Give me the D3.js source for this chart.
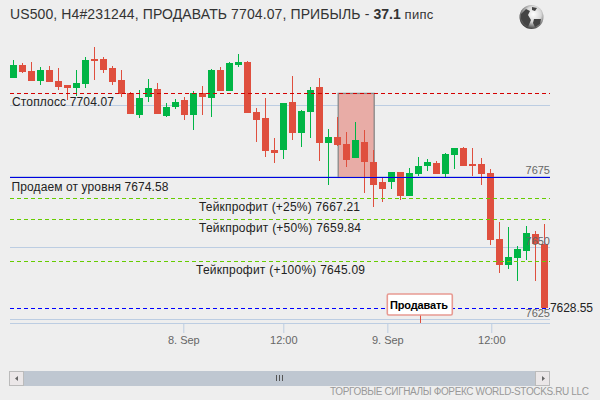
<!DOCTYPE html>
<html>
<head>
<meta charset="utf-8">
<style>
  html, body { margin: 0; padding: 0; background: #eeeeee; }
  text { font-family: "Liberation Sans", Arial, sans-serif; }
</style>
<script src="https://cdn.jsdelivr.net/npm/d3@7"></script>
</head>
<body>
<div id="chart"></div>
<script>
const opens  = [7709.5,7714.0,7711.9,7708.4,7712.3,7708.4,7707.0,7706.0,7707.4,7716.2,7716.2,7713.0,7708.8,7704.2,7696.5,7702.8,7705.6,7696.1,7699.2,7701.8,
                7696.5,7704.2,7702.5,7712.3,7704.9,7714.0,7715.1,7697.5,7695.4,7684.2,7684.2,7701.1,7690.2,7697.5,7706.3,7686.7,7688.8,7686.3,7681.4,7687.0,
                7680.0,7673.0,7673.0,7676.5,7668.0,7675.8,7678.6,7679.6,7675.8,7682.4,7684.9,7679.3,7679.3,7676.1,7652.9,7643.8,7646.3,7648.7,7654.7,7651.2]
const highs  = [7715.8,7714.7,7715.1,7713.3,7713.7,7713.0,7707.0,7712.3,7716.9,7720.4,7716.9,7713.7,7712.3,7704.6,7705.3,7709.1,7707.7,7700.7,7702.1,7702.8,
                7704.9,7706.7,7712.6,7713.3,7715.1,7717.9,7715.4,7698.9,7702.5,7688.4,7700.7,7710.2,7698.2,7706.3,7709.5,7691.6,7695.8,7690.5,7694.0,7691.2,
                7684.2,7674.7,7676.5,7676.5,7677.9,7681.7,7681.0,7680.3,7683.1,7684.9,7685.3,7684.9,7681.4,7677.5,7658.9,7657.2,7650.5,7657.5,7655.8,7658.2]
const lows   = [7709.5,7711.2,7708.4,7707.0,7708.1,7705.3,7701.8,7703.2,7706.0,7708.8,7711.2,7707.0,7702.8,7696.8,7695.4,7701.1,7696.8,7695.8,7698.6,7694.7,
                7691.2,7696.5,7695.8,7704.9,7704.9,7713.3,7697.2,7687.0,7681.7,7679.6,7681.0,7687.7,7685.3,7688.4,7680.3,7671.9,7685.6,7678.2,7681.4,7669.1,
                7664.2,7665.9,7670.5,7666.6,7668.0,7675.1,7676.8,7675.8,7674.4,7677.5,7678.6,7675.1,7671.9,7650.8,7641.0,7642.4,7638.2,7645.6,7638.2,7628.55]
const closes = [7714.0,7711.6,7708.4,7712.3,7708.1,7706.3,7706.0,7707.7,7715.8,7715.4,7712.3,7708.1,7703.9,7696.8,7702.5,7706.0,7696.8,7699.3,7701.1,7696.5,
                7704.2,7702.8,7712.3,7704.9,7714.7,7715.1,7697.2,7694.7,7683.8,7683.1,7700.7,7690.2,7697.9,7705.3,7686.7,7688.8,7686.0,7680.7,7687.7,7680.0,
                7671.9,7670.5,7676.5,7668.0,7676.1,7678.6,7680.0,7675.8,7682.8,7684.9,7678.6,7678.6,7675.8,7652.6,7643.8,7646.6,7649.4,7655.1,7651.2,7628.55]

const yTicks = [7700, 7675, 7650, 7625]
const yLabels = [7675, 7650, 7625]
const xTicks = [18.89, 30, 41.56, 53.11]
const xLabels = ["8. Sep", "12:00", "9. Sep", "12:00"]

const stopLoss = 7704.07
const entry = 7674.58
const lastPrice = 7628.55
const takeProfits = [7667.21, 7659.84, 7645.09]
const tradeBars = [36.1, 40.1]
const flagBar = 45.2

const width = 600, height = 400

const x = d3.scaleLinear().domain([0, 59]).range([13.3, 544.3])
const y = d3.scaleLinear().domain([7625, 7675]).range([318.6, 176.2])
const left = 10, right = 550, bottom = 323

const svg = d3.select("#chart").append("svg")
  .attr("width", width)
  .attr("height", height)
  .style("display", "block")

// grid
svg.append("g").selectAll("line")
  .data(yTicks)
  .enter().append("line")
  .attr("x1", left).attr("x2", right)
  .attr("y1", d => Math.round(y(d)) + 0.5)
  .attr("y2", d => Math.round(y(d)) + 0.5)
  .attr("stroke", "#bccde2")

// x axis
const xAxis = d3.axisBottom(x)
  .tickValues(xTicks)
  .tickSize(10)
  .tickPadding(3)
  .tickFormat((d, i) => xLabels[i])
const xg = svg.append("g").attr("transform", `translate(0,${bottom})`).call(xAxis)
xg.select(".domain").remove()
xg.selectAll("line").attr("stroke", "#bccde2")
xg.selectAll("text").attr("fill", "#666").style("font-size", "11px")
  .style("font-family", '"Liberation Sans", sans-serif')
svg.append("line")
  .attr("x1", left).attr("x2", right)
  .attr("y1", bottom + 0.5).attr("y2", bottom + 0.5)
  .attr("stroke", "#bccde2")

// trade box, behind the candles
svg.append("rect")
  .attr("x", x(tradeBars[0]))
  .attr("y", y(stopLoss))
  .attr("width", x(tradeBars[1]) - x(tradeBars[0]))
  .attr("height", y(entry) - y(stopLoss))
  .attr("fill", "#e8aca6")
  .attr("stroke", "#888")
  .attr("stroke-width", 1.3)

// candles
const bars = svg.append("g").selectAll("g")
  .data(opens)
  .enter().append("g")
  .attr("fill", (d, i) => closes[i] >= d ? "#00b545" : "#df4f3e")
  .attr("shape-rendering", "crispEdges")

bars.append("rect")
  .attr("x", (d, i) => Math.round(x(i)))
  .attr("width", 1)
  .attr("y", (d, i) => y(highs[i]))
  .attr("height", (d, i) => y(lows[i]) - y(highs[i]))

bars.append("rect")
  .attr("x", (d, i) => Math.round(x(i)) - 3)
  .attr("width", 7)
  .attr("y", (d, i) => y(Math.max(d, closes[i])))
  .attr("height", (d, i) => Math.max(1, Math.abs(y(d) - y(closes[i]))))

// y labels sit on the grid, on top of the candles
svg.append("g").selectAll("text")
  .data(yLabels)
  .enter().append("text")
  .attr("x", right)
  .attr("y", d => y(d) - 2)
  .attr("text-anchor", "end")
  .attr("font-size", 11)
  .attr("fill", "#666")
  .text(d => d)

// level lines
function level(value, color, dash) {
  svg.append("line")
    .attr("x1", left).attr("x2", right)
    .attr("y1", Math.round(y(value)) + 0.5)
    .attr("y2", Math.round(y(value)) + 0.5)
    .attr("stroke", color)
    .attr("stroke-dasharray", dash)
}
level(stopLoss, "#d40000", "4,3")
level(entry, "#0000e0", null)
takeProfits.forEach(d => level(d, "#66cc00", "4,3"))
level(lastPrice, "#0000ff", "4,3")

// level captions
const captions = ["Стоплосс 7704.07", "Продаем от уровня 7674.58", "Тейкпрофит (+25%) 7667.21", "Тейкпрофит (+50%) 7659.84", "Тейкпрофит (+100%) 7645.09"]
const captionX = [12, 11.5, 199, 199, 196]
const captionY = [106, 190.5, 211, 232, 274]
const captionW = [102, 157, 161, 162, 169]
svg.append("g").selectAll("text")
  .data(captions)
  .enter().append("text")
  .attr("x", (d, i) => captionX[i])
  .attr("y", (d, i) => captionY[i])
  .attr("textLength", (d, i) => captionW[i])
  .attr("font-size", 12)
  .attr("fill", "#222")
  .text(d => d)

svg.append("text")
  .attr("x", right)
  .attr("y", y(lastPrice) + 4)
  .attr("textLength", 43)
  .attr("font-size", 12)
  .attr("fill", "#222")
  .text(lastPrice)

// flag
svg.append("line")
  .attr("x1", Math.round(x(flagBar)) + 0.5).attr("x2", Math.round(x(flagBar)) + 0.5)
  .attr("y1", 315).attr("y2", bottom)
  .attr("stroke", "#df4f3e")
svg.append("rect")
  .attr("x", 387.3).attr("y", 294)
  .attr("width", 65).attr("height", 21)
  .attr("rx", 1.5)
  .attr("fill", "#fff")
  .attr("stroke", "#e89a92")
  .attr("stroke-width", 1.6)
svg.append("text")
  .attr("x", 390).attr("y", 308.7)
  .attr("textLength", 58)
  .attr("font-size", 11)
  .attr("font-weight", "bold")
  .attr("fill", "#000")
  .text("Продавать")

// title
const title = svg.append("text").attr("x", 10).attr("y", 18.5).attr("font-size", 14).attr("fill", "#333")
title.append("tspan").attr("letter-spacing", 0.11).text("US500, H4#231244, ПРОДАВАТЬ 7704.07, ПРИБЫЛЬ - ")
title.append("tspan").attr("font-weight", "bold").text("37.1")
title.append("tspan").attr("font-size", 13).attr("letter-spacing", 0.3).text(" пипс")

// scrollbar
svg.append("rect").attr("x", left).attr("y", 371).attr("width", right - left).attr("height", 15).attr("fill", "#bfc7d1")
const btn = [left, right - 14]
svg.append("g").selectAll("rect")
  .data(btn)
  .enter().append("rect")
  .attr("x", d => d - 0.5).attr("y", 371.5)
  .attr("width", 14).attr("height", 14)
  .attr("fill", "#ebe7e8").attr("stroke", "#bbb")
svg.append("path").attr("d", "M18,376 L15,378.5 L18,381 Z").attr("fill", "#666")
svg.append("path").attr("d", "M542,376 L545,378.5 L542,381 Z").attr("fill", "#666")
svg.append("g").selectAll("line")
  .data([276.5, 279.5, 282.5])
  .enter().append("line")
  .attr("x1", d => d).attr("x2", d => d)
  .attr("y1", 375).attr("y2", 381)
  .attr("stroke", "#555")

// footer
svg.append("text")
  .attr("x", 330).attr("y", 395)
  .attr("textLength", 259)
  .attr("font-size", 10)
  .attr("fill", "#999")
  .text("ТОРГОВЫЕ СИГНАЛЫ ФОРЕКС WORLD-STOCKS.RU LLC")

// globe
const defs = svg.append("defs")
const grad = defs.append("radialGradient").attr("id", "globe").attr("cx", "58%").attr("cy", "38%").attr("r", "65%")
grad.append("stop").attr("offset", "0%").attr("stop-color", "#ffffff")
grad.append("stop").attr("offset", "50%").attr("stop-color", "#d8d8d8")
grad.append("stop").attr("offset", "100%").attr("stop-color", "#333")
svg.append("circle").attr("cx", 531.5).attr("cy", 17).attr("r", 12).attr("fill", "url(#globe)")
svg.append("path")
  .attr("d", "M521,14 L526,9 L530,11 L528,15 L531,20 L528,27 L524,24 L521,19 Z M534,19 L541,19 L540,24 L535,27 L533,23 Z M532,7 L537,8 L535,11 L532,10 Z")
  .attr("fill", "#444")
</script>
</body>
</html>
